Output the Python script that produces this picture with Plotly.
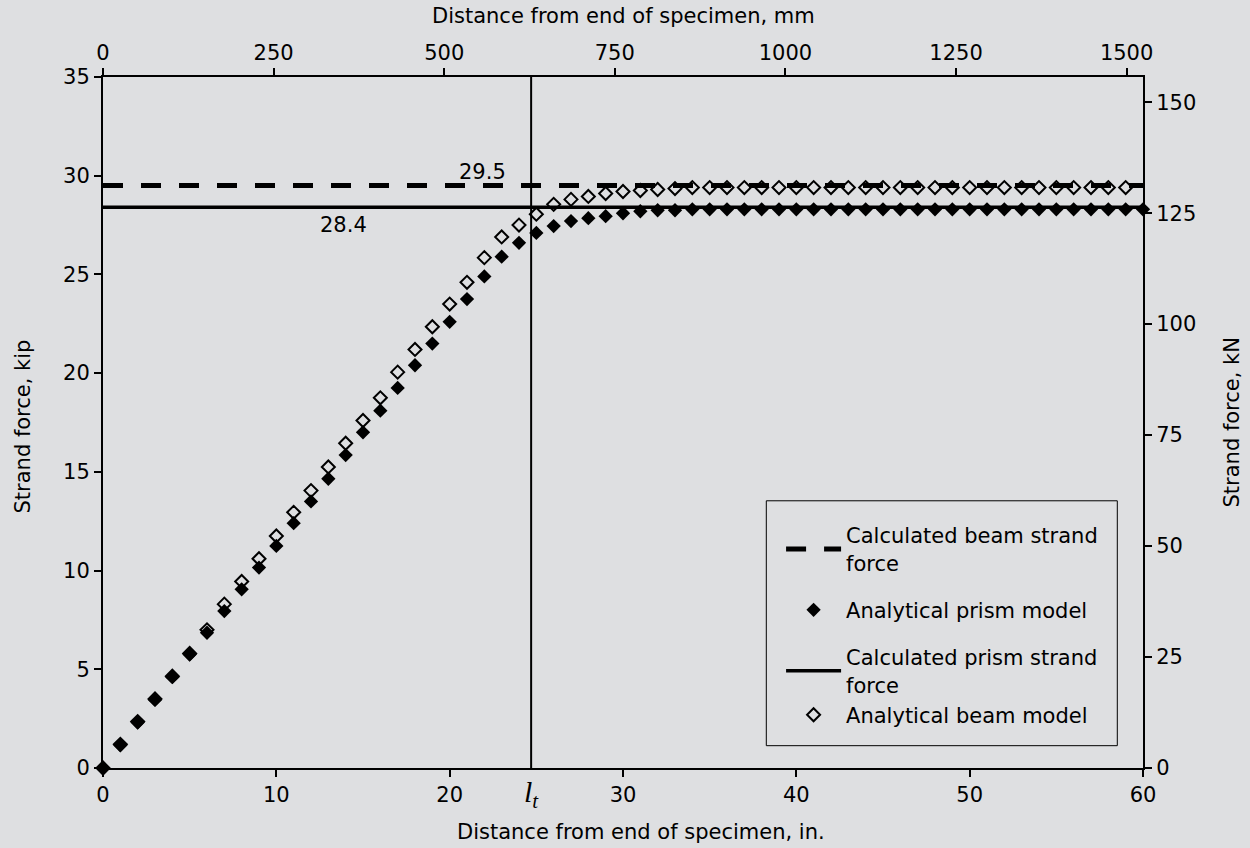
import plotly.graph_objects as go

# ---------------- data ----------------
x_prism_in = [0, 1, 2, 3, 4, 5, 6, 7, 8, 9, 10, 11, 12, 13, 14, 15, 16, 17, 18, 19, 20, 21, 22,
              23, 24, 25, 26, 27, 28, 29, 30, 31, 32, 33, 34, 35, 36, 37, 38, 39, 40, 41, 42, 43,
              44, 45, 46, 47, 48, 49, 50, 51, 52, 53, 54, 55, 56, 57, 58, 59, 60]
prism_model_kip = [0, 1.15, 2.3, 3.45, 4.6, 5.75, 6.85, 7.95, 9.05, 10.15, 11.25, 12.4, 13.5, 14.65,
                   15.85, 17.0, 18.1, 19.25, 20.4, 21.5, 22.6, 23.75, 24.9, 25.9, 26.6, 27.1, 27.45,
                   27.7, 27.85, 27.95, 28.1, 28.2, 28.25, 28.25, 28.3, 28.3, 28.3, 28.3, 28.3, 28.3,
                   28.3, 28.3, 28.3, 28.3, 28.3, 28.3, 28.3, 28.3, 28.3, 28.3, 28.3, 28.3, 28.3, 28.3,
                   28.3, 28.3, 28.3, 28.3, 28.3, 28.3, 28.3]

x_beam_in = [0, 1, 2, 3, 4, 5, 6, 7, 8, 9, 10, 11, 12, 13, 14, 15, 16, 17, 18, 19, 20, 21, 22,
             23, 24, 25, 26, 27, 28, 29, 30, 31, 32, 33, 34, 35, 36, 37, 38, 39, 40, 41, 42, 43,
             44, 45, 46, 47, 48, 49, 50, 51, 52, 53, 54, 55, 56, 57, 58, 59]
beam_model_kip = [0, 1.2, 2.35, 3.5, 4.65, 5.8, 7.0, 8.3, 9.45, 10.6, 11.75, 12.95, 14.05, 15.25,
                  16.45, 17.6, 18.75, 20.05, 21.2, 22.35, 23.5, 24.6, 25.85, 26.9, 27.5, 28.05,
                  28.55, 28.8, 28.95, 29.1, 29.2, 29.25, 29.3, 29.35, 29.4, 29.4, 29.4, 29.4, 29.4,
                  29.4, 29.4, 29.4, 29.4, 29.4, 29.4, 29.4, 29.4, 29.4, 29.4, 29.4, 29.4, 29.4,
                  29.4, 29.4, 29.4, 29.4, 29.4, 29.4, 29.4, 29.4]

line_x_in = [0, 60]
calc_beam_force_kip = 29.5
calc_prism_force_kip = 28.4
lt_in = 24.7

x_range_in = [0, 60]
y_range_kip = [0, 35]
IN_TO_MM = 25.4
KIP_TO_KN = 4.448

# ---------------- style ----------------
BG = "rgb(222,223,225)"
FONT = "DejaVu Sans"
FS = 21

fig = go.Figure()

fig.add_trace(go.Scatter(
    x=line_x_in, y=[calc_beam_force_kip] * 2, mode="lines",
    line=dict(color="black", width=5, dash="20px,18px"),
    name="Calculated beam strand<br>force", legendrank=1, legendgroup="a"))
fig.add_trace(go.Scatter(
    x=line_x_in, y=[calc_prism_force_kip] * 2, mode="lines",
    line=dict(color="black", width=3.5),
    name="Calculated prism strand<br>force", legendrank=3, legendgroup="c"))
fig.add_trace(go.Scatter(
    x=x_beam_in, y=beam_model_kip, mode="markers", cliponaxis=False,
    marker=dict(symbol="diamond-open", size=10, color="black", line=dict(width=2, color="black")),
    name="Analytical beam model", legendrank=4, legendgroup="c"))
fig.add_trace(go.Scatter(
    x=x_prism_in, y=prism_model_kip, mode="markers", cliponaxis=False,
    marker=dict(symbol="diamond", size=11, color="black"),
    name="Analytical prism model", legendrank=2, legendgroup="b"))

# invisible trace to activate the secondary (SI) axes
fig.add_trace(go.Scatter(
    x=[x_range_in[0] * IN_TO_MM, x_range_in[1] * IN_TO_MM],
    y=[y_range_kip[0] * KIP_TO_KN, y_range_kip[1] * KIP_TO_KN],
    xaxis="x2", yaxis="y2", mode="markers", marker=dict(opacity=0),
    showlegend=False, hoverinfo="skip"))

# transfer length line
fig.add_shape(type="line", x0=lt_in, x1=lt_in, y0=0, y1=1, xref="x", yref="paper",
              line=dict(color="black", width=2))
# legend frame
fig.add_shape(type="rect", xref="paper", yref="paper", x0=0.6378, x1=0.9753, y0=0.0323, y1=0.3867,
              line=dict(color="black", width=1), fillcolor="rgba(0,0,0,0)", layer="below")

axis_common = dict(showline=True, linecolor="black", linewidth=2, ticks="outside",
                   ticklen=7, tickwidth=2, tickcolor="black", showgrid=False, zeroline=False,
                   automargin=False,
                   tickfont=dict(family=FONT, size=FS, color="black"))

fig.update_layout(
    width=1250, height=848,
    margin=dict(l=103, r=107, t=77, b=80),
    paper_bgcolor=BG, plot_bgcolor=BG,
    font=dict(family=FONT, size=FS, color="black"),
    xaxis=dict(range=x_range_in, dtick=10, tick0=0, **axis_common),
    yaxis=dict(range=y_range_kip, dtick=5, tick0=0, **axis_common),
    xaxis2=dict(range=[x_range_in[0] * IN_TO_MM, x_range_in[1] * IN_TO_MM], dtick=250, tick0=0,
                overlaying="x", side="top", **axis_common),
    yaxis2=dict(range=[y_range_kip[0] * KIP_TO_KN, y_range_kip[1] * KIP_TO_KN], dtick=25, tick0=0,
                overlaying="y", side="right", **axis_common),
    legend=dict(x=0.652, y=0.366, xanchor="left", yanchor="top",
                bgcolor="rgba(0,0,0,0)", borderwidth=0,
                font=dict(family=FONT, size=FS, color="black"),
                tracegroupgap=17, itemwidth=55),
    showlegend=True,
)

# axis titles
title_font = dict(family=FONT, size=FS, color="black")
fig.add_annotation(text="Distance from end of specimen, mm", xref="paper", yref="paper",
                   x=0.5, y=1, yshift=61, showarrow=False, xanchor="center", yanchor="middle",
                   font=title_font)
fig.add_annotation(text="Distance from end of specimen, in.", xref="paper", yref="paper",
                   x=0.517, y=0, yshift=-64, showarrow=False, xanchor="center", yanchor="middle",
                   font=title_font)
fig.add_annotation(text="Strand force, kip", xref="paper", yref="paper", textangle=-90,
                   x=0, xshift=-81, y=0.5, yshift=-4, showarrow=False, xanchor="center",
                   yanchor="middle", font=title_font)
fig.add_annotation(text="Strand force, kN", xref="paper", yref="paper", textangle=-90,
                   x=1, xshift=88, y=0.5, showarrow=False, xanchor="center",
                   yanchor="middle", font=title_font)

fig.add_annotation(x=21.9, y=30.2, text="29.5", showarrow=False,
                   font=dict(family=FONT, size=FS, color="black"))
fig.add_annotation(x=13.9, y=27.5, text="28.4", showarrow=False,
                   font=dict(family=FONT, size=FS, color="black"))
fig.add_annotation(x=lt_in, xref="x", y=-0.038, yref="paper", text="<i>l<sub>t</sub></i>",
                   showarrow=False, xanchor="center", yanchor="middle",
                   font=dict(family="Liberation Serif", size=30, color="black"))

fig.write_html("out.html")
